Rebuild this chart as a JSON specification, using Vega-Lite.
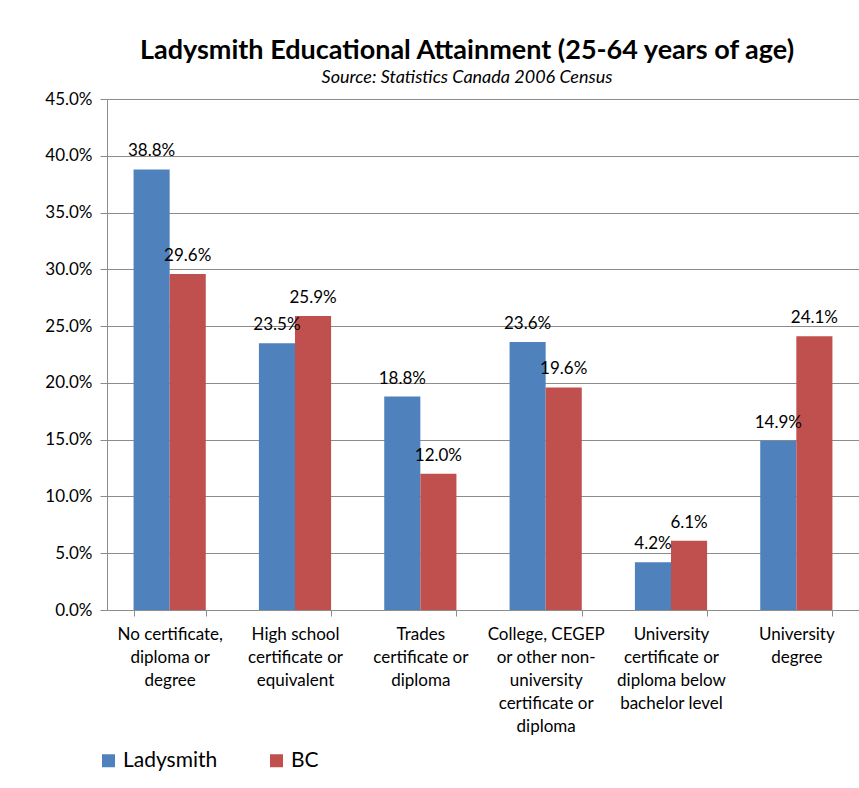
{
  "$schema": "https://vega.github.io/schema/vega-lite/v6.json",
  "width": 752,
  "height": 511,
  "autosize": {"type": "none"},
  "padding": {"left": 107, "top": 99, "right": 0, "bottom": 178},
  "background": "white",
  "config": {
    "view": {"stroke": null},
    "font": "Lato",
    "axis": {"labelFont": "Lato", "labelColor": "#000000"}
  },
  "title": {
    "text": "Ladysmith Educational Attainment (25-64 years of age)",
    "subtitle": "Source: Statistics Canada 2006 Census",
    "anchor": "middle",
    "frame": "group",
    "dx": -16,
    "font": "Lato",
    "fontSize": 27,
    "fontWeight": "bold",
    "color": "#000000",
    "subtitleFont": "Lato",
    "subtitleFontSize": 18,
    "subtitleFontStyle": "italic",
    "subtitleColor": "#000000",
    "subtitlePadding": 4,
    "offset": 2
  },
  "data": {
    "values": [
      {"cat": "No certificate,|diploma or|degree", "series": "Ladysmith", "value": 0.388},
      {"cat": "No certificate,|diploma or|degree", "series": "BC", "value": 0.296},
      {"cat": "High school|certificate or|equivalent", "series": "Ladysmith", "value": 0.235},
      {"cat": "High school|certificate or|equivalent", "series": "BC", "value": 0.259},
      {"cat": "Trades|certificate or|diploma", "series": "Ladysmith", "value": 0.188},
      {"cat": "Trades|certificate or|diploma", "series": "BC", "value": 0.120},
      {"cat": "College, CEGEP|or other non-|university|certificate or|diploma", "series": "Ladysmith", "value": 0.236},
      {"cat": "College, CEGEP|or other non-|university|certificate or|diploma", "series": "BC", "value": 0.196},
      {"cat": "University|certificate or|diploma below|bachelor level", "series": "Ladysmith", "value": 0.042},
      {"cat": "University|certificate or|diploma below|bachelor level", "series": "BC", "value": 0.061},
      {"cat": "University|degree", "series": "Ladysmith", "value": 0.149},
      {"cat": "University|degree", "series": "BC", "value": 0.241}
    ]
  },
  "encoding": {
    "x": {
      "field": "cat",
      "type": "nominal",
      "sort": null,
      "title": null,
      "scale": {"paddingInner": 0.424, "paddingOuter": 0.212},
      "axis": {
        "labelAngle": 0,
        "labelExpr": "split(datum.label, '|')",
        "labelFontSize": 17,
        "labelLineHeight": 23,
        "labelPadding": 10,
        "labelBaseline": "top",
        "tickBand": "extent",
        "tickSize": 6,
        "tickColor": "#8c8c8c",
        "domainColor": "#8c8c8c",
        "labelLimit": 200
      }
    },
    "xOffset": {
      "field": "series",
      "type": "nominal",
      "sort": ["Ladysmith", "BC"],
      "scale": {"paddingInner": 0, "paddingOuter": 0}
    },
    "y": {
      "field": "value",
      "type": "quantitative",
      "title": null,
      "scale": {"domain": [0, 0.45], "nice": false},
      "axis": {
        "values": [0, 0.05, 0.1, 0.15, 0.2, 0.25, 0.3, 0.35, 0.4, 0.45],
        "format": ".1%",
        "labelFontSize": 17,
        "labelPadding": 8,
        "tickSize": 7,
        "tickColor": "#8c8c8c",
        "domainColor": "#8c8c8c",
        "gridColor": "#8c8c8c",
        "gridWidth": 1
      }
    }
  },
  "layer": [
    {
      "mark": {"type": "bar"},
      "encoding": {
        "color": {
          "field": "series",
          "type": "nominal",
          "scale": {"domain": ["Ladysmith", "BC"], "range": ["#4F81BD", "#C0504D"]},
          "legend": {
            "title": null,
            "orient": "none",
            "direction": "horizontal",
            "legendX": -9,
            "legendY": 651,
            "symbolType": "square",
            "symbolSize": 169,
            "symbolStrokeWidth": 0,
            "labelFontSize": 21,
            "labelFont": "Lato",
            "labelColor": "#000000",
            "columnPadding": 48,
            "labelOffset": 4
          }
        }
      }
    },
    {
      "mark": {"type": "text", "dy": -13, "baseline": "alphabetic", "fontSize": 17, "color": "#000000"},
      "encoding": {
        "text": {"field": "value", "type": "quantitative", "format": ".1%"}
      }
    }
  ]
}
